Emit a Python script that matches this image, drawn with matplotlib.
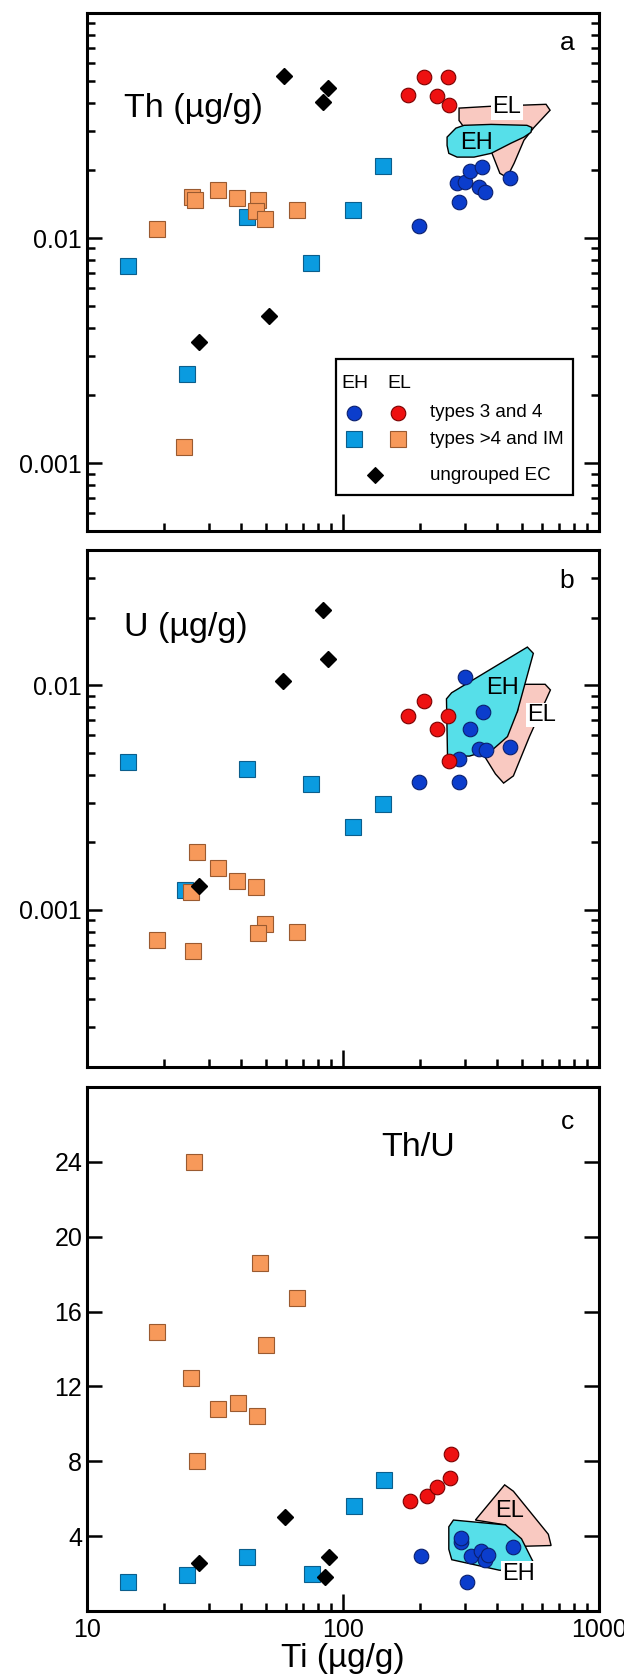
import numpy as np
import matplotlib.pyplot as plt
from matplotlib.patches import Polygon, Rectangle
from matplotlib.lines import Line2D
from matplotlib.ticker import LogLocator

plt.rcParams["font.family"] = ["Liberation Sans", "DejaVu Sans"]

# ---- panel a : Th (µg/g) vs Ti (µg/g)
a_eh_sq_ti = [14.4, 24.5, 42.0, 75.2, 109, 143]
a_eh_sq_th = [0.00752, 0.00248, 0.01245, 0.00774, 0.0133, 0.0209]
a_el_sq_ti = [18.7, 25.7, 26.3, 24.0, 32.4, 38.6, 46.7, 45.8, 49.8, 65.9]
a_el_sq_th = [0.01096, 0.0152, 0.0147, 0.00118, 0.0164, 0.0150, 0.0147, 0.01315, 0.0122, 0.0134]
a_eh_ci_ti = [198, 283, 280, 298.5, 312, 350, 341, 360, 450]
a_eh_ci_th = [0.01128, 0.01442, 0.01762, 0.01774, 0.01982, 0.0206, 0.01687, 0.01596, 0.01841]
a_el_ci_ti = [179.5, 208, 232, 256, 259]
a_el_ci_th = [0.0431, 0.0521, 0.0427, 0.0518, 0.0389]
a_ug_ti = [58.9, 83.4, 87.7, 51.6, 27.3]
a_ug_th = [0.0524, 0.0404, 0.0465, 0.00453, 0.00344]
a_el_field_ti = [284, 375, 621, 644, 557, 509, 466, 437, 410, 382, 313, 284]
a_el_field_th = [0.0378, 0.0385, 0.0393, 0.0370, 0.0310, 0.0272, 0.0215, 0.0186, 0.0194, 0.0238, 0.0286, 0.0333]
a_eh_field_ti = [255, 276, 297, 379, 523, 547, 542, 509, 453, 379, 325, 279, 259, 255]
a_eh_field_th = [0.0281, 0.0308, 0.0317, 0.0320, 0.0317, 0.0310, 0.0295, 0.0281, 0.0264, 0.0238, 0.0229, 0.0229, 0.0238, 0.0258]

# ---- panel b : U (µg/g) vs Ti (µg/g)
b_eh_sq_ti = [14.4, 42.0, 75.2, 143, 109, 24.2]
b_eh_sq_u = [0.00455, 0.00423, 0.00365, 0.00297, 0.00234, 0.00123]
b_el_sq_ti = [27.0, 32.4, 38.6, 45.8, 25.4, 18.7, 26.0, 49.8, 46.7, 65.9]
b_el_sq_u = [0.00182, 0.00153, 0.00134, 0.00126, 0.00120, 0.000738, 0.000656, 0.000863, 0.000787, 0.000801]
b_eh_ci_ti = [298.5, 351, 312, 341, 362, 450, 285, 198, 283]
b_eh_ci_u = [0.01084, 0.00760, 0.00641, 0.00521, 0.00517, 0.00531, 0.00468, 0.00370, 0.00370]
b_el_ci_ti = [208, 179.5, 256, 232, 259]
b_el_ci_u = [0.00848, 0.00730, 0.00727, 0.00637, 0.00462]
b_ug_ti = [58.5, 83.4, 87.7, 27.3]
b_ug_u = [0.01045, 0.0216, 0.01312, 0.00128]
b_el_field_ti = [497, 616, 646, 535, 463, 424, 394, 360, 354, 480]
b_el_field_u = [0.0101, 0.0101, 0.00953, 0.00591, 0.00395, 0.00367, 0.00403, 0.00476, 0.00493, 0.00765]
b_eh_field_ti = [253.6, 265.6, 525, 554, 480, 439, 387, 312, 256]
b_eh_field_u = [0.00870, 0.00926, 0.01479, 0.01387, 0.00765, 0.00591, 0.00521, 0.00484, 0.00484]

# ---- panel c : Th/U vs Ti (µg/g)
c_eh_sq_ti = [14.4, 24.5, 42.0, 76, 110, 145]
c_eh_sq_r = [1.54, 1.9, 2.86, 2.0, 5.6, 6.98]
c_el_sq_ti = [26.1, 47.2, 66.4, 18.7, 50.1, 25.5, 39.0, 32.4, 46.2, 27.0]
c_el_sq_r = [24.0, 18.6, 16.7, 14.9, 14.2, 12.46, 11.14, 10.78, 10.44, 8.0]
c_eh_ci_ti = [201, 290, 289, 316, 347, 360, 370, 462, 306]
c_eh_ci_r = [2.96, 3.7, 3.9, 2.96, 3.2, 2.7, 3.0, 3.44, 1.56]
c_el_ci_ti = [182, 212, 233, 261, 264]
c_el_ci_r = [5.9, 6.14, 6.64, 7.1, 8.38]
c_ug_ti = [27.5, 59.6, 84.7, 87.8]
c_ug_r = [2.58, 5.0, 1.84, 2.86]
c_el_field_ti = [329, 428, 463, 634, 650, 512, 431]
c_el_field_r = [4.86, 6.74, 6.4, 4.1, 3.5, 3.46, 4.6]
c_eh_field_ti = [259, 270, 431, 498, 557, 515, 408, 266, 259]
c_eh_field_r = [4.5, 4.86, 4.6, 3.86, 2.54, 2.14, 2.18, 2.74, 3.3]

# colours
EH_CIRCLE = "#0b3dcc"
EL_CIRCLE = "#ee1111"
EH_SQUARE = "#0a9be0"
EL_SQUARE = "#f7995a"
EH_FIELD = "#56dfe9"
EL_FIELD = "#f9c9c1"

sq_kw = dict(marker="s", ms=11.5, mew=0.8, ls="none", zorder=3)
ci_kw = dict(marker="o", ms=10.5, mew=0.8, ls="none", zorder=4)
ug_kw = dict(marker="D", ms=8, color="black", ls="none", zorder=5)

fig = plt.figure(figsize=(6.24, 16.75), dpi=100)
left, width = 87 / 624, 512 / 624
ax_a = fig.add_axes([left, 1 - 531 / 1675, width, 518 / 1675])
ax_b = fig.add_axes([left, 1 - 1067 / 1675, width, 517 / 1675])
ax_c = fig.add_axes([left, 1 - 1611 / 1675, width, 524 / 1675])


def draw_panel(ax, eh_sq, el_sq, eh_ci, el_ci, ug, el_field, eh_field):
    ax.add_patch(Polygon(np.column_stack(el_field), closed=True, fc=EL_FIELD, ec="black", lw=1.0, zorder=1))
    ax.add_patch(Polygon(np.column_stack(eh_field), closed=True, fc=EH_FIELD, ec="black", lw=1.0, zorder=2))
    ax.plot(*eh_sq, mfc=EH_SQUARE, mec="#0b5e8c", **sq_kw)
    ax.plot(*el_sq, mfc=EL_SQUARE, mec="#9a5a30", **sq_kw)
    ax.plot(*eh_ci, mfc=EH_CIRCLE, mec="#0a1f6e", **ci_kw)
    ax.plot(*el_ci, mfc=EL_CIRCLE, mec="#7a0000", **ci_kw)
    ax.plot(*ug, **ug_kw)


def style_axes(ax):
    ax.set_xscale("log")
    ax.set_xlim(10, 1000)
    for sp in ax.spines.values():
        sp.set_linewidth(2.2)
    ax.tick_params(which="both", direction="in", right=True, top=False, width=1.8, labelsize=18)
    ax.tick_params(which="major", length=11)
    ax.tick_params(which="minor", length=6)
    ax.tick_params(axis="x", which="major", length=12)


draw_panel(ax_a, (a_eh_sq_ti, a_eh_sq_th), (a_el_sq_ti, a_el_sq_th), (a_eh_ci_ti, a_eh_ci_th),
           (a_el_ci_ti, a_el_ci_th), (a_ug_ti, a_ug_th), (a_el_field_ti, a_el_field_th),
           (a_eh_field_ti, a_eh_field_th))
draw_panel(ax_b, (b_eh_sq_ti, b_eh_sq_u), (b_el_sq_ti, b_el_sq_u), (b_eh_ci_ti, b_eh_ci_u),
           (b_el_ci_ti, b_el_ci_u), (b_ug_ti, b_ug_u), (b_el_field_ti, b_el_field_u),
           (b_eh_field_ti, b_eh_field_u))
draw_panel(ax_c, (c_eh_sq_ti, c_eh_sq_r), (c_el_sq_ti, c_el_sq_r), (c_eh_ci_ti, c_eh_ci_r),
           (c_el_ci_ti, c_el_ci_r), (c_ug_ti, c_ug_r), (c_el_field_ti, c_el_field_r),
           (c_eh_field_ti, c_eh_field_r))

for ax in (ax_a, ax_b, ax_c):
    style_axes(ax)

# log y axes for a and b
for ax, lo, hi in ((ax_a, 0.0005, 0.1), (ax_b, 0.0002, 0.04)):
    ax.set_yscale("log")
    ax.set_ylim(lo, hi)
    ax.set_yticks([0.001, 0.01])
    ax.set_yticklabels(["0.001", "0.01"])
    ax.tick_params(axis="x", which="both", labelbottom=False)
    ax.tick_params(which="major", length=11)
    ax.tick_params(axis="x", which="major", length=12)

ax_c.set_ylim(0, 28)
ax_c.set_yticks([4, 8, 12, 16, 20, 24])
ax_c.minorticks_off()
ax_c.xaxis.set_minor_locator(LogLocator(base=10, subs=np.arange(2, 10)))
ax_c.set_xticks([10, 100, 1000])
ax_c.set_xticklabels(["10", "100", "1000"])
ax_c.tick_params(axis="x", which="major", pad=5)
fig.text(left + width / 2, 1 / 1675, "Ti (µg/g)", fontsize=24, ha="center", va="bottom")

# panel titles and letters
ax_a.text(0.072, 0.815, "Th (µg/g)", transform=ax_a.transAxes, fontsize=24.5, va="center")
ax_b.text(0.072, 0.85, "U (µg/g)", transform=ax_b.transAxes, fontsize=24.5, va="center")
ax_c.text(0.646, 0.885, "Th/U", transform=ax_c.transAxes, fontsize=24.5, va="center", ha="center")
for ax, letter, y in ((ax_a, "a", 0.942), (ax_b, "b", 0.94), (ax_c, "c", 0.933)):
    ax.text(0.9375, y, letter, transform=ax.transAxes, fontsize=19, ha="center", va="center")

# field labels
white = dict(facecolor="white", edgecolor="none", pad=1)
ax_a.text(437, 0.0381, "EL", fontsize=17, ha="center", va="center", bbox=white, zorder=6)
ax_a.text(331, 0.0264, "EH", fontsize=17, ha="center", va="center", zorder=6)
ax_b.text(419, 0.0097, "EH", fontsize=17, ha="center", va="center", zorder=6)
ax_b.text(599, 0.00738, "EL", fontsize=17, ha="center", va="center", bbox=white, zorder=6)
ax_c.text(447, 5.36, "EL", fontsize=17, ha="center", va="center", zorder=6)
ax_c.text(485, 2.0, "EH", fontsize=17, ha="center", va="center", bbox=white, zorder=6)

# legend box drawn inside panel a
ax_a.add_patch(Rectangle((0.486, 0.0695), 0.463, 0.2625, transform=ax_a.transAxes,
                         fc="white", ec="black", lw=1.6, zorder=7))
tr = ax_a.transAxes
ax_a.text(0.5234, 0.2857, "EH", transform=tr, fontsize=14, ha="center", va="center", zorder=8)
ax_a.text(0.6094, 0.2857, "EL", transform=tr, fontsize=14, ha="center", va="center", zorder=8)
leg_marks = [
    (0.5215, 0.2278, "o", EH_CIRCLE, "#0a1f6e", 10.5),
    (0.6074, 0.2278, "o", EL_CIRCLE, "#7a0000", 10.5),
    (0.5215, 0.1776, "s", EH_SQUARE, "#0b5e8c", 11.5),
    (0.6074, 0.1776, "s", EL_SQUARE, "#9a5a30", 11.5),
    (0.5625, 0.108, "D", "black", "black", 8),
]
for x, y, m, fc, ec, ms in leg_marks:
    ax_a.add_line(Line2D([x], [y], marker=m, ms=ms, mfc=fc, mec=ec, mew=0.8, ls="none",
                         transform=tr, zorder=8, clip_on=False))
for y, s in ((0.2278, "types 3 and 4"), (0.1776, "types >4 and IM"), (0.108, "ungrouped EC")):
    ax_a.text(0.670, y, s, transform=tr, fontsize=13.5, va="center", zorder=8)

fig.savefig("out.png", dpi=100)
